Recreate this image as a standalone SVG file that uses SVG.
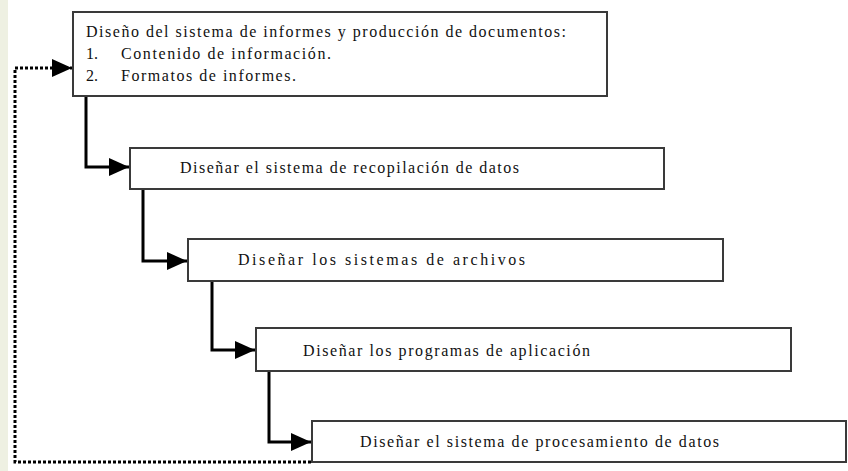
<svg xmlns="http://www.w3.org/2000/svg" width="848" height="471" viewBox="0 0 848 471">
<style>
.box{fill:#fff;stroke:#3a3a3a;stroke-width:2}
.t{font-family:"Liberation Serif","DejaVu Serif","Noto Serif","Times New Roman",serif;font-size:16px;fill:#111}
.c{fill:none;stroke:#000;stroke-width:3}
.d{fill:none;stroke:#000;stroke-width:3;stroke-dasharray:3 2}
</style>
<defs>
<marker id="ah" markerUnits="userSpaceOnUse" markerWidth="22" markerHeight="18" refX="20" refY="9" orient="auto">
<path d="M0,0 L20,9 L0,18 Z" fill="#000"/>
</marker>
</defs>
<rect x="0" y="0" width="848" height="471" fill="#fff"/>
<rect x="0" y="0" width="8" height="471" fill="#eef0e2"/>
<g id="connectors">
<path class="c" d="M86,96 V167 H129" marker-end="url(#ah)"/>
<path class="c" d="M143,189 V261 H187" stroke-width="2.5" marker-end="url(#ah)"/>
<path class="c" d="M212,281 V350 H255" marker-end="url(#ah)"/>
<path class="c" d="M269,371 V442 H311" marker-end="url(#ah)"/>
<path class="d" d="M311,462 H15 V68 H72" marker-end="url(#ah)"/>
</g>
<g id="n1">
<rect class="box" x="73" y="12" width="534" height="84"/>
<text class="t" x="86" y="37" textLength="480" lengthAdjust="spacing">Diseño del sistema de informes y producción de documentos:</text>
<text class="t" x="86" y="59">1.</text>
<text class="t" x="121" y="59" textLength="210" lengthAdjust="spacing">Contenido de información.</text>
<text class="t" x="86" y="81">2.</text>
<text class="t" x="121" y="81" textLength="175" lengthAdjust="spacing">Formatos de informes.</text>
</g>
<g id="n2">
<rect class="box" x="130" y="148" width="534" height="41"/>
<text class="t" x="180" y="173" textLength="339" lengthAdjust="spacing">Diseñar el sistema de recopilación de datos</text>
</g>
<g id="n3">
<rect class="box" x="188" y="239" width="535" height="42"/>
<text class="t" x="238" y="265" textLength="287" lengthAdjust="spacing">Diseñar los sistemas de archivos</text>
</g>
<g id="n4">
<rect class="box" x="256" y="328" width="535" height="43"/>
<text class="t" x="303" y="356" textLength="287" lengthAdjust="spacing">Diseñar los programas de aplicación</text>
</g>
<g id="n5">
<rect class="box" x="312" y="421" width="534" height="41"/>
<text class="t" x="360" y="447" textLength="359" lengthAdjust="spacing">Diseñar el sistema de procesamiento de datos</text>
</g>
</svg>
